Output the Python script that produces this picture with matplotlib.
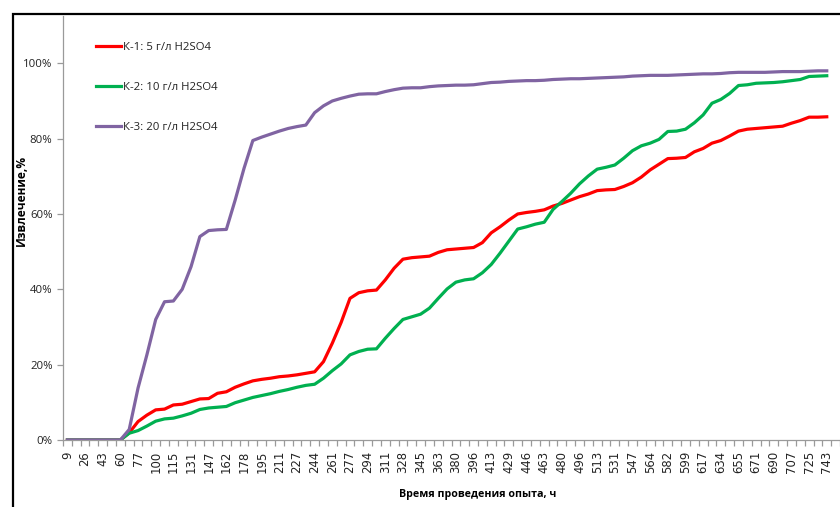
import matplotlib

matplotlib.use("Agg")

import matplotlib.pyplot as plt
import numpy as np
from matplotlib import font_manager
from matplotlib.patches import Rectangle


def pick_family(candidates):
    """Return the first installed font family from the list."""
    installed = {f.name for f in font_manager.fontManager.ttflist}
    for name in candidates:
        if name in installed:
            return name
    return "DejaVu Sans"


# hours of the experiment, only every second sample carries a label
tick_labels = [
    "9", "26", "43", "60", "77", "100", "115", "131", "147", "162", "178",
    "195", "211", "227", "244", "261", "277", "294", "311", "328", "345",
    "363", "380", "396", "413", "429", "446", "463", "480", "496", "513",
    "531", "547", "564", "582", "599", "617", "634", "655", "671", "690",
    "707", "725", "743",
]

# extraction, %
k1_values = [
    0, 0, 0, 0, 0, 0, 0, 1.9, 4.9, 6.6, 8.0, 8.2, 9.3, 9.5, 10.2, 10.9,
    11.0, 12.4, 12.8, 14.0, 14.9, 15.7, 16.1, 16.4, 16.8, 17.0, 17.3, 17.7,
    18.1, 20.8, 25.7, 31.2, 37.6, 39.1, 39.6, 39.8, 42.5, 45.6, 48.0, 48.4,
    48.6, 48.8, 49.8, 50.5, 50.7, 50.9, 51.1, 52.4, 55.0, 56.6, 58.4, 60.0,
    60.4, 60.7, 61.1, 62.1, 62.8, 63.7, 64.6, 65.3, 66.2, 66.4, 66.5, 67.3,
    68.3, 69.8, 71.7, 73.2, 74.7, 74.8, 75.0, 76.5, 77.4, 78.8, 79.5, 80.7,
    82.0, 82.5, 82.7, 82.9, 83.1, 83.3, 84.1, 84.8, 85.7, 85.7, 85.8,
]
k2_values = [
    0, 0, 0, 0, 0, 0, 0, 1.8, 2.5, 3.7, 5.0, 5.6, 5.8, 6.4, 7.1, 8.1, 8.5,
    8.7, 8.9, 9.9, 10.6, 11.3, 11.8, 12.3, 12.9, 13.4, 14.0, 14.5, 14.8,
    16.4, 18.4, 20.2, 22.6, 23.5, 24.1, 24.2, 27.0, 29.6, 32.0, 32.7, 33.4,
    35.0, 37.6, 40.1, 41.9, 42.5, 42.8, 44.4, 46.6, 49.6, 52.8, 56.0, 56.6,
    57.3, 57.8, 61.2, 63.3, 65.5, 68.0, 70.1, 71.9, 72.4, 73.0, 74.8, 76.8,
    78.1, 78.8, 79.8, 81.9, 82.0, 82.5, 84.2, 86.3, 89.4, 90.4, 92.0, 94.1,
    94.3, 94.7, 94.8, 94.9, 95.1, 95.4, 95.7, 96.5, 96.6, 96.7,
]
k3_values = [
    0, 0, 0, 0, 0, 0, 0, 2.8, 13.8, 22.6, 32.0, 36.7, 36.9, 40.0, 46.0, 54.0,
    55.6, 55.8, 55.9, 63.7, 72.1, 79.5, 80.4, 81.2, 82.0, 82.7, 83.2, 83.6,
    86.9, 88.7, 90.0, 90.7, 91.3, 91.8, 91.9, 91.9, 92.5, 93.0, 93.4, 93.5,
    93.5, 93.8, 94.0, 94.1, 94.2, 94.2, 94.3, 94.6, 94.9, 95.0, 95.2, 95.3,
    95.4, 95.4, 95.5, 95.7, 95.8, 95.9, 95.9, 96.0, 96.1, 96.2, 96.3, 96.4,
    96.6, 96.7, 96.8, 96.8, 96.8, 96.9, 97.0, 97.1, 97.2, 97.2, 97.3, 97.5,
    97.6, 97.6, 97.6, 97.6, 97.7, 97.8, 97.8, 97.8, 97.9, 98.0, 98.0,
]
series_names = ["К-1: 5 г/л H2SO4", "К-2: 10 г/л H2SO4", "К-3: 20 г/л H2SO4"]
series_colors = ["#FF0000", "#00B050", "#8064A2"]

W, H = 840, 507
base_font = pick_family(["Open Sans", "Lato", "Noto Sans", "DejaVu Sans"])
plt.rcParams["font.family"] = [base_font, "DejaVu Sans"]

fig = plt.figure(figsize=(W / 100, H / 100), dpi=100)
fig.patch.set_facecolor("white")

# plot area in pixel terms: left 63, top 16, x axis at 440, runs past the right edge
ax = fig.add_axes([63 / W, (H - 440) / H, 1 - 63 / W, (440 - 16) / H])

x = np.arange(len(k1_values))
for vals, name, color in zip([k1_values, k2_values, k3_values], series_names, series_colors):
    ax.plot(x, vals, color=color, lw=2.3, label=name, solid_joinstyle="round")

ax.set_xlim(-0.5, -0.5 + (W - 63) / 8.98)
ax.set_ylim(0, (440 - 16) / 3.767)

axis_grey = "#9A9A9A"
for side in ("top", "right"):
    ax.spines[side].set_visible(False)
for side in ("left", "bottom"):
    ax.spines[side].set_color(axis_grey)
    ax.spines[side].set_linewidth(0.9)

ax.set_yticks(np.arange(0, 101, 20))
ax.set_yticklabels([f"{v}%" for v in range(0, 101, 20)])
ax.tick_params(axis="y", length=4, width=0.9, color=axis_grey, pad=3.5,
               labelsize=8.2, labelcolor="#222222")

ax.set_xticks(x[::2])
ax.set_xticklabels(tick_labels, rotation=90, va="top", ha="center",
                   family=["DejaVu Sans"])
ax.set_xticks(np.arange(-0.5, len(x) + 1), minor=True)
ax.tick_params(axis="x", which="major", length=0, pad=8, labelsize=8.4,
               labelcolor="#222222")
ax.tick_params(axis="x", which="minor", length=4, width=0.9, color=axis_grey)

leg = ax.legend(loc="upper left", bbox_to_anchor=(96 / W, 1 - 42 / H),
                bbox_transform=fig.transFigure, frameon=False, fontsize=8.2,
                handlelength=2.2, handletextpad=0.15, labelspacing=2.55,
                borderpad=0, borderaxespad=0)
for txt in leg.get_texts():
    txt.set_color("#222222")

fig.text(21 / W, 1 - 200 / H, "Извлечение,%", rotation=90, ha="center",
         va="center", fontsize=8.6, fontweight="bold")
fig.text(478 / W, 1 - 495 / H, "Время проведения опыта, ч", ha="center",
         va="center", fontsize=7.7, fontweight="bold")

# chart border, cut by the right and bottom edges
fig.patches.append(Rectangle((12.5 / W, -0.2), 1.2, 0.2 + (H - 14) / H,
                             transform=fig.transFigure, fill=False,
                             edgecolor="black", lw=1.6, clip_on=False))

fig.savefig("out.png", dpi=100)
